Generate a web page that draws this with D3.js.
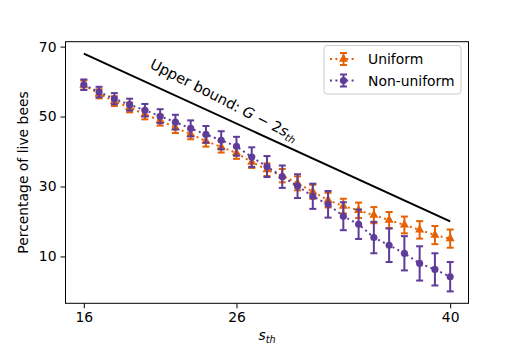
<!DOCTYPE html>
<html><head><meta charset="utf-8">
<script src="https://cdn.jsdelivr.net/npm/d3@7"></script>
<style>body{margin:0;background:#fff}svg{display:block}text{font-family:"DejaVu Sans",sans-serif}</style>
</head><body><svg id="c" width="520" height="346"></svg>
<script>
const sth = [16,17,18,19,20,21,22,23,24,25,26,27,28,29,30,31,32,33,34,35,36,37,38,39,40];
const uniform =    [59.0,56.5,54.4,52.6,50.6,48.9,46.8,45.0,43.0,41.3,39.6,37.0,34.8,33.1,30.9,28.5,26.1,24.4,23.2,21.8,20.4,19.0,17.6,16.1,15.1];
const uniformErr = [1.3,1.3,1.4,1.4,1.4,1.5,1.5,1.5,1.6,1.6,1.7,1.7,1.8,1.9,2.0,2.0,2.1,2.1,2.2,2.3,2.3,2.4,2.5,2.6,2.6];
const nonuniform =    [59.1,57.0,55.1,53.4,51.8,50.1,48.4,46.6,44.9,43.2,41.5,38.4,35.7,32.8,30.1,27.2,24.9,21.5,19.2,15.4,13.2,10.9,8.0,6.3,4.2];
const nonuniformErr = [1.5,1.5,1.6,1.7,1.8,2.0,2.1,2.3,2.4,2.6,2.7,2.8,3.0,3.2,3.4,3.6,3.8,4.0,4.2,4.5,4.8,4.9,4.9,4.6,4.2];
const boundX = [16,40];
const boundY = [68,20];
const xTicks = [16,26,40];
const yTicks = [10,30,50,70];
const seriesNames = ["Uniform","Non-uniform"];
const colors = ["#e66101","#5e3c99"];

const svg = d3.select("#c");
const L=65.5,R=468.5,T=41.7,B=303.3;
const x = d3.scaleLinear().domain([14.8,41.2]).range([L,R]);
const y = d3.scaleLinear().domain([-3.4,71.4]).range([B,T]);

// bound line
svg.append("line").attr("x1",x(boundX[0])).attr("y1",y(boundY[0])).attr("x2",x(boundX[1])).attr("y2",y(boundY[1]))
  .attr("stroke","#000").attr("stroke-width",2);

// annotation
const ann = svg.append("text").attr("transform","translate(224,100) rotate(27)")
  .attr("text-anchor","middle").attr("dominant-baseline","central").attr("font-size",14.5).attr("fill","#000");
ann.append("tspan").text("Upper bound: ");
ann.append("tspan").attr("font-style","italic").text("G");
ann.append("tspan").text(" \u2212 2");
ann.append("tspan").attr("font-style","italic").text("s");
ann.append("tspan").attr("font-style","italic").attr("font-size",10).attr("dy",4).text("th");

function drawSeries(vals, errs, color, shape){
  const g = svg.append("g");
  const line = d3.line().x((d,i)=>x(sth[i])).y(d=>y(d));
  g.append("path").attr("d",line(vals)).attr("fill","none").attr("stroke",color)
    .attr("stroke-width",2).attr("stroke-dasharray","2,3.4");
  vals.forEach((v,i)=>{
    const cx=x(sth[i]);
    g.append("line").attr("x1",cx).attr("x2",cx).attr("y1",y(v-errs[i])).attr("y2",y(v+errs[i]))
      .attr("stroke",color).attr("stroke-width",2);
    [v-errs[i],v+errs[i]].forEach(e=>g.append("line").attr("x1",cx-3.5).attr("x2",cx+3.5)
      .attr("y1",y(e)).attr("y2",y(e)).attr("stroke",color).attr("stroke-width",2));
    g.append("path").attr("d",d3.symbol().type(shape).size(shape===d3.symbolCircle?40:36)())
      .attr("transform",`translate(${cx},${y(v)})`).attr("fill",color);
  });
}
drawSeries(uniform,uniformErr,colors[0],d3.symbolTriangle);
drawSeries(nonuniform,nonuniformErr,colors[1],d3.symbolCircle);

// axes frame
svg.append("rect").attr("x",L).attr("y",T).attr("width",R-L).attr("height",B-T)
  .attr("fill","none").attr("stroke","#000").attr("stroke-width",1);
const xa = svg.append("g").attr("transform",`translate(0,${B})`)
  .call(d3.axisBottom(x).tickValues(xTicks).tickSize(5).tickPadding(4));
const ya = svg.append("g").attr("transform",`translate(${L},0)`)
  .call(d3.axisLeft(y).tickValues(yTicks).tickSize(5).tickPadding(4));
[xa,ya].forEach(a=>{a.select(".domain").remove();a.selectAll("text").attr("font-size",13.9).attr("font-family","DejaVu Sans").attr("fill","#000");a.selectAll("line").attr("stroke","#000");});

// labels
const xl = svg.append("text").attr("x",(L+R)/2).attr("y",340).attr("text-anchor","middle").attr("font-size",13.9);
xl.append("tspan").attr("font-style","italic").text("s");
xl.append("tspan").attr("font-style","italic").attr("font-size",9.7).attr("dy",3).text("th");
svg.append("text").attr("transform",`translate(28,${(T+B)/2}) rotate(-90)`).attr("text-anchor","middle")
  .attr("font-size",13.9).text("Percentage of live bees");

// legend
const lg = svg.append("g");
lg.append("rect").attr("x",324).attr("y",45.5).attr("width",137).attr("height",48.5).attr("rx",3)
  .attr("fill","#fff").attr("fill-opacity",0.8).attr("stroke","#ccc");
[[d3.symbolTriangle,59],[d3.symbolCircle,80.5]].forEach(([shape,cy],i)=>{
  const c=colors[i];
  lg.append("line").attr("x1",330).attr("x2",357).attr("y1",cy).attr("y2",cy).attr("stroke",c).attr("stroke-width",2).attr("stroke-dasharray","2,3.4");
  lg.append("line").attr("x1",343.5).attr("x2",343.5).attr("y1",cy-6).attr("y2",cy+6).attr("stroke",c).attr("stroke-width",2);
  [cy-6,cy+6].forEach(e=>lg.append("line").attr("x1",340).attr("x2",347).attr("y1",e).attr("y2",e).attr("stroke",c).attr("stroke-width",2));
  lg.append("path").attr("d",d3.symbol().type(shape).size(shape===d3.symbolCircle?40:36)()).attr("transform",`translate(343.5,${cy})`).attr("fill",c);
  lg.append("text").attr("x",368).attr("y",cy).attr("dominant-baseline","central").attr("font-size",13.9).text(seriesNames[i]);
});
</script></body></html>
